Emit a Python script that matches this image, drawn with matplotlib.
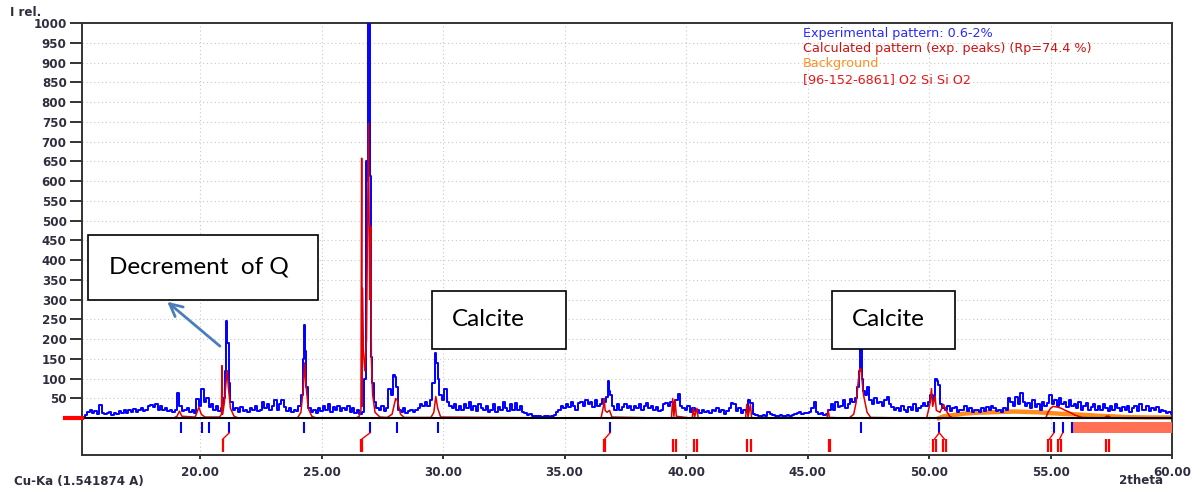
import numpy as np
import matplotlib
matplotlib.use("Agg")
import matplotlib.pyplot as plt
from matplotlib.patches import Rectangle

# ---------------- data ----------------
# Experimental pattern, sampled every 0.1 deg 2theta (15.2 .. 60.0)
exp_start = 15.2
exp_15 = [4, 8, 16, 20, 12, 18, 10, 34]
exp_16 = [14, 10, 12, 15, 9, 13, 11, 18, 14, 20]
exp_17 = [12, 22, 16, 24, 15, 20, 26, 18, 22, 30]
exp_18 = [34, 28, 35, 22, 32, 20, 25, 18, 22, 15]
exp_19 = [20, 65, 30, 18, 22, 25, 15, 20, 12, 48]
exp_20 = [30, 75, 40, 50, 28, 35, 20, 30, 18, 25]
exp_21 = [50, 245, 90, 40, 20, 25, 15, 28, 18, 22]
exp_22 = [15, 25, 20, 30, 18, 22, 40, 25, 35, 20]
exp_23 = [30, 45, 22, 35, 45, 28, 18, 25, 15, 20]
exp_24 = [18, 30, 60, 235, 80, 25, 15, 20, 12, 25]
exp_25 = [18, 30, 22, 35, 15, 28, 20, 32, 18, 25]
exp_26 = [20, 30, 15, 25, 12, 22, 10, 15, 100, 600]
exp_27 = [612, 90, 40, 25, 20, 30, 18, 25, 75, 60]
exp_28 = [110, 80, 20, 15, 25, 12, 18, 22, 15, 20]
exp_29 = [25, 35, 30, 40, 32, 45, 90, 165, 100, 60]
exp_30 = [45, 75, 40, 30, 25, 35, 20, 30, 22, 35]
exp_31 = [25, 40, 22, 30, 18, 35, 25, 20, 30, 15]
exp_32 = [22, 35, 15, 28, 20, 40, 25, 18, 35, 22]
exp_33 = [38, 20, 30, 15, 12, 8, 10, 6, 5, 6]
exp_34 = [5, 4, 6, 5, 4, 5, 8, 15, 22, 30]
exp_35 = [25, 35, 28, 40, 30, 22, 38, 42, 30, 45]
exp_36 = [35, 40, 28, 45, 30, 35, 48, 40, 95, 60]
exp_37 = [30, 22, 35, 20, 28, 35, 25, 30, 22, 32]
exp_38 = [25, 35, 20, 30, 38, 25, 30, 22, 28, 18]
exp_39 = [22, 35, 38, 30, 40, 25, 45, 62, 30, 25]
exp_40 = [20, 30, 15, 25, 18, 22, 12, 20, 15, 18]
exp_41 = [12, 22, 18, 25, 15, 20, 10, 18, 25, 38]
exp_42 = [35, 18, 25, 12, 20, 15, 45, 38, 10, 8]
exp_43 = [6, 5, 8, 6, 15, 10, 7, 6, 5, 7]
exp_44 = [6, 5, 7, 6, 8, 10, 12, 15, 10, 14]
exp_45 = [12, 15, 25, 40, 15, 10, 12, 8, 10, 20]
exp_46 = [35, 22, 40, 28, 30, 45, 25, 35, 48, 42]
exp_47 = [50, 80, 175, 70, 60, 80, 45, 35, 50, 38]
exp_48 = [40, 30, 45, 55, 35, 28, 20, 25, 18, 30]
exp_49 = [22, 15, 28, 20, 35, 18, 25, 32, 38, 30]
exp_50 = [40, 60, 45, 100, 85, 35, 25, 20, 30, 18]
exp_51 = [25, 28, 15, 22, 20, 30, 18, 25, 15, 22]
exp_52 = [20, 15, 25, 18, 28, 20, 30, 25, 18, 22]
exp_53 = [15, 25, 20, 50, 40, 30, 55, 35, 64, 40]
exp_54 = [30, 38, 25, 45, 28, 35, 22, 40, 30, 38]
exp_55 = [60, 35, 45, 30, 50, 35, 40, 28, 45, 32]
exp_56 = [35, 25, 40, 22, 30, 38, 20, 28, 35, 22]
exp_57 = [30, 20, 35, 25, 18, 30, 22, 35, 25, 18]
exp_58 = [28, 20, 32, 15, 25, 30, 18, 35, 22, 20]
exp_59 = [30, 18, 25, 20, 28, 15, 22, 18, 12, 15]
exp_60 = [10]

# Extra experimental points resolving the sharp reflections
peak_theta = [21.05, 21.15, 24.25, 24.35, 26.83, 26.85, 26.88, 26.91, 26.97,
              27.04, 27.06, 28.05, 29.75, 36.75, 36.85, 47.15, 47.25, 50.35]
peak_int = [120, 190, 150, 170, 170, 650, 600, 1000, 1000,
            612, 156, 105, 140, 55, 70, 120, 100, 95]

# Calculated pattern (exp. peaks)
calc_theta = [15.14, 18.9, 19.05, 19.15, 19.25, 19.8, 19.95, 20.05, 20.2, 20.8,
              20.88, 20.9, 20.93, 21.0, 21.08, 21.12, 21.16, 21.25, 21.4, 21.6,
              24.0, 24.15, 24.25, 24.3, 24.35, 24.45, 24.6, 24.8,
              26.4, 26.55, 26.62, 26.65, 26.67, 26.68, 26.72, 26.78, 26.85,
              26.93, 26.98, 27.02, 27.05, 27.1, 27.2, 27.4, 27.7,
              27.9, 28.05, 28.12, 28.25, 28.4,
              29.5, 29.62, 29.7, 29.78, 29.9,
              36.5, 36.6, 36.63, 36.67, 36.75, 36.85, 36.95,
              39.4, 39.45, 39.5, 39.55, 39.6,
              40.25, 40.3, 40.35, 40.45, 40.5,
              42.45, 42.5, 42.55, 42.65, 42.7,
              45.8, 45.85, 45.9,
              46.7, 46.9, 47.0, 47.1, 47.15, 47.2, 47.3, 47.45, 47.6,
              49.9, 50.05, 50.1, 50.15, 50.25, 50.3, 50.45, 50.6, 50.7, 50.85, 51.0,
              54.8, 54.9, 55.0, 55.1, 55.3, 55.45, 55.6, 55.8, 56.0, 56.3,
              57.2, 57.3, 57.4, 57.5, 60.0]
calc_int = [0, 0, 5, 18, 5, 3, 28, 10, 3, 3,
            10, 133, 10, 40, 100, 120, 80, 25, 5, 0,
            0, 15, 80, 140, 90, 25, 5, 0,
            0, 5, 20, 658, 30, 329, 173, 120, 200,
            747, 300, 485, 150, 60, 15, 3, 2,
            10, 50, 45, 10, 2,
            2, 15, 55, 25, 3,
            0, 30, 50, 20, 15, 20, 3,
            0, 50, 5, 45, 5,
            0, 25, 3, 25, 0,
            0, 35, 3, 35, 0,
            0, 20, 2,
            0, 10, 40, 100, 125, 125, 60, 15, 2,
            0, 40, 75, 30, 55, 20, 15, 35, 20, 5, 0,
            0, 15, 25, 30, 28, 25, 20, 15, 8, 2,
            0, 5, 5, 0, 0]

# Background
bg_theta = [50.4, 50.6, 51.0, 51.5, 52.0, 52.5, 53.0, 53.5, 54.0, 54.5,
            55.0, 55.5, 56.0, 56.5, 57.0, 57.5, 58.0, 59.0, 60.0]
bg_int = [0, 5, 8, 12, 14, 15, 16, 17, 16, 15,
          13, 11, 10, 8, 6, 5, 3, 2, 2]

# Peak position markers
exp_peak_pos = [19.20, 20.07, 20.37, 21.20, 24.29, 26.99, 28.09, 29.78,
                36.87, 47.18, 50.42, 55.14, 55.50]
ref_peak_pos = [20.93, 26.63, 26.67, 36.62, 36.66, 39.47, 39.58, 40.32, 40.46,
                42.52, 42.66, 45.88, 45.92, 50.17, 50.28, 50.58, 50.70,
                54.91, 55.00, 55.32, 55.42, 57.28, 57.39]
link_from = [20.93, 26.65, 36.64, 50.22, 50.64, 54.95, 55.37]
link_to = [21.20, 26.99, 36.87, 50.42, 50.42, 55.14, 55.50]
unmatched_range = [55.88, 60.0]

x_ticks = [20, 25, 30, 35, 40, 45, 50, 55, 60]
y_ticks = list(range(50, 1001, 50))

legend_lines = ["Experimental pattern: 0.6-2%",
                "Calculated pattern (exp. peaks) (Rp=74.4 %)",
                "Background",
                "[96-152-6861] O2 Si Si O2"]

# ---------------- assemble experimental profile ----------------
exp_blocks = [exp_15, exp_16, exp_17, exp_18, exp_19, exp_20, exp_21, exp_22,
              exp_23, exp_24, exp_25, exp_26, exp_27, exp_28, exp_29, exp_30,
              exp_31, exp_32, exp_33, exp_34, exp_35, exp_36, exp_37, exp_38,
              exp_39, exp_40, exp_41, exp_42, exp_43, exp_44, exp_45, exp_46,
              exp_47, exp_48, exp_49, exp_50, exp_51, exp_52, exp_53, exp_54,
              exp_55, exp_56, exp_57, exp_58, exp_59, exp_60]
exp_int = np.concatenate([np.asarray(b, float) for b in exp_blocks])
exp_theta = np.round(exp_start + 0.1 * np.arange(exp_int.size), 2)
all_theta = np.concatenate([exp_theta, peak_theta])
all_int = np.concatenate([exp_int, peak_int])
order = np.argsort(all_theta, kind="stable")
all_theta, all_int = all_theta[order], all_int[order]

# ---------------- figure ----------------
W, H = 1198, 491
fig = plt.figure(figsize=(W / 100, H / 100), dpi=100)
ax = fig.add_axes([82 / W, 1 - 455 / H, (1172 - 82) / W, (455 - 23) / H])
ax.set_xlim(15.14, 60.0)
ax.set_ylim(-93, 1000)

grid_kw = dict(color="#c8c8c8", lw=0.8, ls=(0, (1, 2.5)), zorder=0)
for yv in y_ticks[:-1]:
    ax.axhline(yv, **grid_kw)
for xv in x_ticks[:-1]:
    ax.axvline(xv, **grid_kw)

ax.plot(bg_theta, bg_int, color="#ff8c1a", lw=3.2, zorder=2)
ax.plot(all_theta, all_int, color="#0000ff", lw=1.4, drawstyle="steps-mid", zorder=3)
ax.plot(calc_theta, calc_int, color="#e00000", lw=1.1, zorder=4)
ax.axhline(0, color="black", lw=1.5, zorder=5)
ax.plot([-17 / 1090, 0], [0, 0], transform=ax.get_yaxis_transform(), color="#ff0000",
        lw=3, clip_on=False, zorder=6)

# peak markers below the baseline
b_top, b_bot, r_top, r_bot = -9, -37, -53, -86
ax.vlines(exp_peak_pos, b_bot, b_top, color="#0000ff", lw=1.5, zorder=5)
ax.vlines(ref_peak_pos, r_bot, r_top, color="#ff0000", lw=1.6, zorder=5)
for a, b in zip(link_from, link_to):
    ax.plot([a, b], [r_top, b_bot], color="#ff0000", lw=1.0, zorder=5)
ax.add_patch(Rectangle((unmatched_range[0], b_bot), unmatched_range[1] - unmatched_range[0],
                       b_top - b_bot, facecolor="#ff7054", lw=0, zorder=5))
ax.vlines([unmatched_range[0]], b_bot, b_top, color="#0000ff", lw=1.5, zorder=6)

# axes styling
for s in ax.spines.values():
    s.set_color("#333333")
    s.set_linewidth(1.4)
tick_font = dict(family="DejaVu Sans", weight="bold", size=8.6)
ax.set_yticks(y_ticks)
ax.set_yticklabels([str(v) for v in y_ticks], color="#2e2e3e", **tick_font)
ax.set_xticks(x_ticks)
ax.set_xticklabels([f"{v:.2f}" for v in x_ticks], color="#2e2e3e", **tick_font)
ax.tick_params(axis="y", direction="out", length=9, width=1.4, color="#333333", pad=2)
ax.tick_params(axis="x", direction="out", length=3, width=1.4, color="#333333", pad=5)

lab_font = dict(family="DejaVu Sans", weight="bold", size=8.6, color="#2e2e3e")
fig.text(10 / W, 1 - 12 / H, "I rel.", ha="left", va="center", **lab_font)
fig.text(14 / W, 1 - 481 / H, "Cu-Ka (1.541874 A)", ha="left", va="center", **lab_font)
fig.text(1163 / W, 1 - 481 / H, "2theta", ha="right", va="center", **lab_font)

legend_colors = ["#2a2aff", "#d01010", "#ff9020", "#e81818"]
for i, (txt, col) in enumerate(zip(legend_lines, legend_colors)):
    fig.text(803 / W, 1 - (33 + 15.4 * i) / H, txt, ha="left", va="center",
             family="DejaVu Sans", size=9.2, color=col)

# annotation boxes
def px(x, y):
    return 15.144 + (x - 82) / 24.3, (418.3 - y) / 0.3953

def text_box(x0, y0, x1, y1, label, tx):
    (dx0, dy0), (dx1, dy1) = px(x0, y1), px(x1, y0)
    ax.add_patch(Rectangle((dx0, dy0), dx1 - dx0, dy1 - dy0, facecolor="white",
                           edgecolor="black", lw=1.2, zorder=7))
    ttx, tty = px(tx, (y0 + y1) / 2)
    ax.text(ttx, tty, label, ha="left", va="center", family="Lato",
            size=17.5, color="black", zorder=8)

text_box(88, 235, 318, 300, "Decrement  of Q", 109)
text_box(432, 291, 566, 349, "Calcite", 452)
text_box(832, 291, 955, 349, "Calcite", 852)

ax.annotate("", xy=px(165, 300), xytext=px(222, 348),
            arrowprops=dict(arrowstyle="->,head_length=0.9,head_width=0.45",
                            color="#4a7ebb", lw=2), zorder=8)

fig.savefig("out.png", dpi=100)
